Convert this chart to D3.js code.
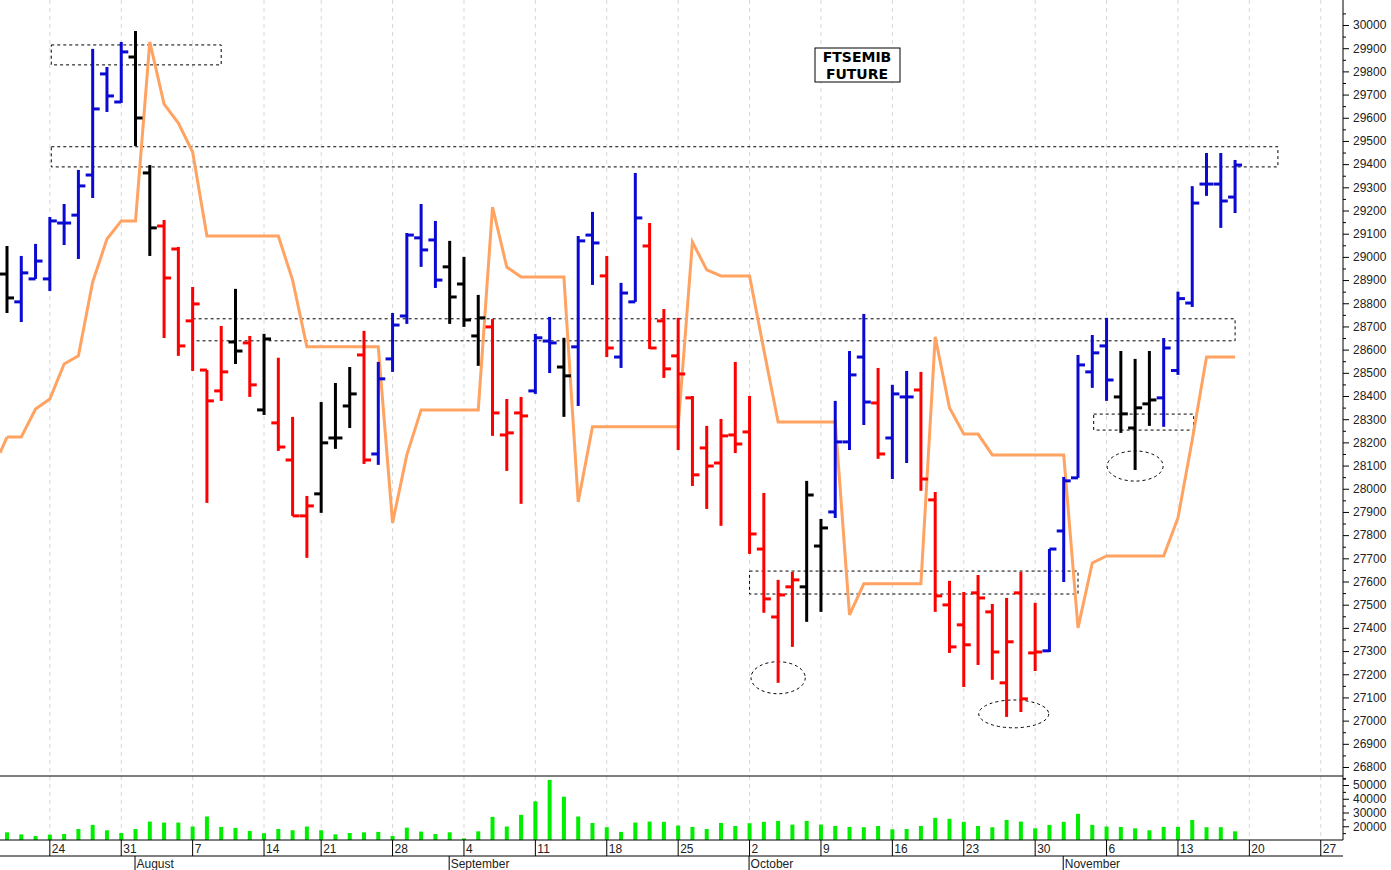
<!DOCTYPE html>
<html>
<head>
<meta charset="utf-8">
<script src="https://cdn.jsdelivr.net/npm/d3@7"></script>
<style>
  body { margin: 0; background: #fff; }
  text { font-family: "Liberation Sans", Arial, sans-serif; }
</style>
</head>
<body>
<svg id="chart" width="1391" height="870"></svg>
<script>
// daily bars, index 0 = 19 Jul
const opens  = [28926,28806,28905,28905,29146,29180,29353,29789,29668,29862,29362,29133,29034,28724,28512,28422,28633,28629,28340,28284,
  28124,27883,27978,28219,28357,28577,28150,28560,28745,29082,29073,28957,28883,28659,28698,28232,28327,28422,28637,28525,
  28612,29094,28918,28568,28806,29047,28724,28573,28392,28176,28111,28232,28245,27740,27447,27577,27577,27753,27900,28202,
  28568,28370,28219,28396,28426,27952,27499,27413,27551,27469,27163,27551,27292,27301,27818,28047,28504,28616,28396,28262,
  28366,28392,28510,28801,29314,29314,29258];
const highs  = [29047,29004,29056,29172,29228,29375,29897,29819,29927,29974,29396,29159,29043,28870,28512,28702,28862,28659,28668,28565,
  28310,27969,28374,28456,28525,28681,28547,28758,29103,29228,29155,29069,29000,28836,28732,28387,28396,28668,28741,28651,
  29090,29194,29004,28888,29362,29146,28775,28737,28400,28271,28301,28547,28400,27982,27607,27641,28034,27870,28379,28594,
  28754,28521,28448,28508,28504,27986,27603,27555,27628,27503,27529,27641,27508,27740,28051,28577,28663,28737,28594,28560,
  28594,28650,28850,29305,29448,29448,29418];
const lows   = [28758,28719,28905,28853,29051,28991,29254,29625,29664,29478,29004,28650,28573,28508,27939,28379,28538,28396,28318,28163,
  27883,27702,27896,28172,28262,28107,28103,28504,28711,28957,28866,28711,28698,28530,28228,28077,27935,28409,28499,28310,
  28357,28879,28568,28521,28806,28603,28478,28167,28012,27913,27840,28154,27719,27465,27163,27318,27426,27469,27874,28167,
  28275,28129,28042,28111,27991,27469,27292,27145,27240,27176,27016,27037,27214,27296,27598,28047,28435,28379,28241,28081,
  28271,28267,28491,28784,29263,29125,29189];
const closes = [28823,28931,28982,29155,29146,29306,29638,29694,29884,29599,29125,28909,28616,28797,28379,28504,28594,28448,28646,28180,
  27883,27926,28198,28219,28409,28124,28474,28706,29094,29030,28900,28827,28728,28737,28327,28241,28314,28651,28629,28487,
  29069,29060,28607,28844,29168,28607,28517,28495,28060,28098,28228,28193,27805,27525,27542,27607,27973,27831,28202,28491,
  28374,28150,28409,28396,28042,27538,27318,27327,27529,27296,27340,27094,27296,27740,28034,28534,28586,28469,28323,28349,
  28383,28607,28820,29232,29314,29241,29396];
// b = blue (up), r = red (down), k = black (neutral)
const trend = "kbbbbbbbbkkrrrrrkrkrrrkkkrbbbbbkkkrrrbbkbbrbbrrrrrrrrrrrkkbbbrbbrrrrrrrrrbbbbbkkkbbbbbbb";
const stopLine = [28223,28223,28344,28387,28538,28573,28892,29077,29155,29155,29927,29659,29577,29452,29090,29090,29090,29090,29090,29090,
  28900,28612,28612,28612,28612,28612,28612,27853,28146,28340,28340,28340,28340,28340,29215,28956,28913,28913,28913,28913,
  27943,28267,28267,28267,28267,28267,28267,28267,29064,28944,28918,28918,28918,28599,28288,28288,28288,28288,28288,27456,
  27590,27590,27590,27590,27590,28655,28349,28236,28236,28146,28146,28146,28146,28146,28146,27400,27680,27710,27710,27710,
  27710,27710,27874,28210,28568,28568,28568];
const volumes = [15600,14100,12900,13900,14400,18000,21000,17100,15100,18000,23400,22700,22700,19800,27100,19500,18800,16600,14900,18000,
  17100,19800,17100,14100,15100,15600,15900,12900,19000,16100,14400,15600,11200,16300,26800,19800,28300,38100,53700,41500,
  27100,22400,19300,15900,22700,23400,23200,20500,19500,18000,22400,20200,22200,23200,23900,21200,23900,21200,20200,19500,
  19300,20200,17800,18000,20200,26100,25400,23200,20200,19300,24600,23400,18500,21000,23200,29000,21000,19800,19500,18500,
  17100,19500,19500,24600,19300,19300,16300];

const weekIdx = [3,8,13,18,22,27,32,37,42,47,52,57,62,67,72,77,82,87,92];
const weekLabels = ["24","31","7","14","21","28","4","11","18","25","2","9","16","23","30","6","13","20","27"];
const monthIdx = [9,31,52,74];
const monthLabels = ["August","September","October","November"];
const priceTicks = d3.range(26800, 30001, 100);
const volTicks = [20000,30000,40000,50000];

// annotations: [i0, i1, p0, p1]
const boxes = [[3.1,15.0,29914,29828],[3.1,89.0,29475,29388],[13.0,86.0,28733,28638],
  [52.0,75.0,27645,27546],[76.1,83.1,28322,28253]];
// ellipses: [i, price, rx(bars), ry(price)]
const ellipses = [[54,27185,1.9,69],[70.5,27029,2.45,60],[79.0,28098,1.96,65]];

const svg = d3.select("#chart");
const axisX = 1343, priceBottom = 776, volBottom = 840;
const x = d3.scaleLinear().domain([0, 86]).range([7, 7 + 86 * 14.28]);
const y = d3.scaleLinear().domain([26800, 30000]).range([767, 25]);
const yv = d3.scaleLinear().domain([10000, 50000]).range([volBottom, 785]);
const colors = { b: "#0a0ad2", r: "#ff0000", k: "#000000" };

const plot = svg.append("g").attr("clip-path", "url(#clip)");
svg.append("clipPath").attr("id", "clip").append("rect")
  .attr("x", 0).attr("y", 0).attr("width", axisX).attr("height", volBottom);

// grid
plot.selectAll(".grid").data(weekIdx).enter().append("line")
  .attr("x1", d => x(d)).attr("x2", d => x(d)).attr("y1", 0).attr("y2", volBottom)
  .attr("stroke", "#d8d8d8").attr("stroke-dasharray", "4,4");

// annotation boxes
plot.selectAll(".box").data(boxes).enter().append("rect")
  .attr("x", d => x(d[0])).attr("y", d => y(d[2]))
  .attr("width", d => x(d[1]) - x(d[0])).attr("height", d => y(d[3]) - y(d[2]))
  .attr("fill", "none").attr("stroke", "#000").attr("stroke-dasharray", "3,3");
plot.selectAll(".ell").data(ellipses).enter().append("ellipse")
  .attr("cx", d => x(d[0])).attr("cy", d => y(d[1]))
  .attr("rx", d => x(d[2]) - x(0)).attr("ry", d => y(0) - y(d[3]))
  .attr("fill", "none").attr("stroke", "#000").attr("stroke-dasharray", "3,3");

// orange line
plot.append("path").datum(stopLine)
  .attr("d", d3.line().x((d, i) => x(i)).y(d => y(d)))
  .attr("fill", "none").attr("stroke", "#ffa362").attr("stroke-width", 3);
plot.append("line").attr("x1", 0).attr("x2", x(0)).attr("y1", 453).attr("y2", y(stopLine[0]))
  .attr("stroke", "#ffa362").attr("stroke-width", 3);

// OHLC bars
const bars = plot.selectAll(".bar").data(opens).enter().append("g")
  .attr("stroke", (d, i) => colors[trend[i]]).attr("stroke-width", 3);
bars.append("line").attr("x1", (d, i) => x(i)).attr("x2", (d, i) => x(i))
  .attr("y1", (d, i) => y(highs[i])).attr("y2", (d, i) => y(lows[i]));
bars.append("line").attr("x1", (d, i) => x(i) - 7).attr("x2", (d, i) => x(i))
  .attr("y1", d => y(d)).attr("y2", d => y(d));
bars.append("line").attr("x1", (d, i) => x(i)).attr("x2", (d, i) => x(i) + 7)
  .attr("y1", (d, i) => y(closes[i])).attr("y2", (d, i) => y(closes[i]));

// volume
plot.selectAll(".vol").data(volumes).enter().append("line")
  .attr("x1", (d, i) => x(i)).attr("x2", (d, i) => x(i))
  .attr("y1", volBottom).attr("y2", d => yv(d))
  .attr("stroke", "#00ee00").attr("stroke-width", 4);

// title
const tb = svg.append("g");
tb.append("rect").attr("x", 815).attr("y", 48).attr("width", 85).attr("height", 34)
  .attr("fill", "#fff").attr("stroke", "#000");
tb.selectAll("text").data(["FTSEMIB", "FUTURE"]).enter().append("text")
  .attr("x", 857).attr("y", (d, i) => 62 + i * 17).attr("text-anchor", "middle")
  .style("font-family", "DejaVu Sans").style("font-weight", "bold").style("font-size", "14px")
  .text(d => d);

// frame lines
svg.append("line").attr("x1", axisX).attr("x2", axisX).attr("y1", 0).attr("y2", volBottom).attr("stroke", "#000");
svg.append("line").attr("x1", 0).attr("x2", axisX).attr("y1", priceBottom).attr("y2", priceBottom).attr("stroke", "#000");
svg.append("line").attr("x1", 0).attr("x2", axisX).attr("y1", volBottom).attr("y2", volBottom).attr("stroke", "#000");
svg.append("line").attr("x1", 0).attr("x2", axisX).attr("y1", 856).attr("y2", 856).attr("stroke", "#000");

// price axis
const pAxis = svg.append("g").attr("transform", `translate(${axisX},0)`)
  .call(d3.axisRight(y).tickValues(priceTicks).tickSize(6).tickFormat(d3.format("d")));
pAxis.select(".domain").remove();
pAxis.selectAll("text").style("font-size", "12px").attr("fill", "#222").attr("x", 10);
svg.append("g").attr("transform", `translate(${axisX},0)`)
  .call(d3.axisRight(y).tickValues(d3.range(26750, 30101, 100)).tickSize(3).tickFormat(""))
  .select(".domain").remove();

// volume axis
const vAxis = svg.append("g").attr("transform", `translate(${axisX},0)`)
  .call(d3.axisRight(yv).tickValues(volTicks).tickSize(6).tickFormat(d3.format("d")));
vAxis.select(".domain").remove();
vAxis.selectAll("text").style("font-size", "12px").attr("fill", "#222").attr("x", 10);
svg.append("g").attr("transform", `translate(${axisX},0)`)
  .call(d3.axisRight(yv).tickValues([15000,25000,35000,45000,55000]).tickSize(3).tickFormat(""))
  .select(".domain").remove();

// date axis
const dx = svg.append("g");
dx.selectAll("line").data(weekIdx).enter().append("line")
  .attr("x1", d => x(d)).attr("x2", d => x(d)).attr("y1", volBottom).attr("y2", 856).attr("stroke", "#000");
dx.selectAll("text").data(weekIdx).enter().append("text")
  .attr("x", d => x(d) + 2).attr("y", 853).style("font-size", "12px").attr("fill", "#222")
  .text((d, i) => weekLabels[i]);
const mx = svg.append("g");
mx.selectAll("line").data(monthIdx).enter().append("line")
  .attr("x1", d => x(d) - 0.5).attr("x2", d => x(d) - 0.5).attr("y1", 856).attr("y2", 870).attr("stroke", "#000");
mx.selectAll("text").data(monthIdx).enter().append("text")
  .attr("x", d => x(d) + 1).attr("y", 868).style("font-size", "12px").attr("fill", "#222")
  .text((d, i) => monthLabels[i]);
</script>
</body>
</html>
